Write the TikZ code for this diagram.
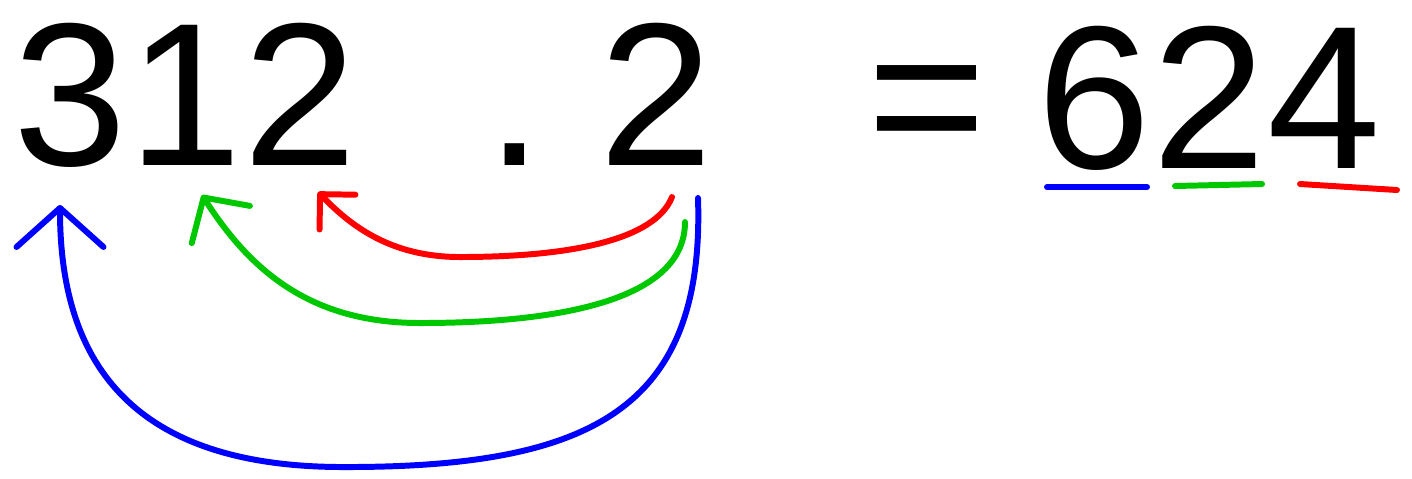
\documentclass[tikz,border=0pt]{standalone}
\usepackage{fontspec}
\setmainfont{Liberation Sans}
\usetikzlibrary{positioning,arrows.meta}
\definecolor{arcblue}{RGB}{0,0,255}
\definecolor{arcgreen}{RGB}{0,200,0}
\definecolor{arcred}{RGB}{255,0,0}

\begin{document}
\begin{tikzpicture}[
  digit/.style={inner sep=0pt, font=\fontsize{58}{60}\selectfont},
  hand/.style={line width=1.7pt, line cap=round, line join=round},
  redarc/.style={hand, arcred, -{Straight Barb[round, length=2.5mm, width=5mm]}},
  greenarc/.style={hand, arcgreen, -{Straight Barb[round, length=3.2mm, width=6.9mm]}},
  bluearc/.style={hand, arcblue, -{Straight Barb[round, length=3.9mm, width=8.7mm]}},
  uline/.style={line width=1.7pt, line cap=round}
]
\useasboundingbox (0,0) rectangle (14.12,-4.78);

% left factor, multiplier, result
\node[digit, anchor=base west] (a3) at (0.13,-1.65) {3};
\node[digit, base right=0pt of a3] (a1) {1};
\node[digit, base right=0pt of a1] (a2) {2};
\node[digit, anchor=base] (dot) at (5.15,-1.65) {.};
\node[digit, anchor=base] (b2) at (6.56,-1.65) {2};
\node[digit, anchor=base] (eq) at (9.27,-1.65) {=};
\node[digit, anchor=base west] (c6) at (10.37,-1.68) {6};
\node[digit, base right=0pt of c6] (c2) {2};
\node[digit, base right=0pt of c2] (c4) {4};

% arc ends
\coordinate (redfrom)   at (6.72,-1.97);
\coordinate (redlow)    at (4.60,-2.57);
\coordinate (redto)     at (3.18,-1.92);
\coordinate (greenfrom) at (6.85,-2.22);
\coordinate (greenlow)  at (4.20,-3.23);
\coordinate (greento)   at (2.02,-1.95);
\coordinate (bluefrom)  at (6.98,-1.98);
\coordinate (bluelow)   at (3.40,-4.67);
\coordinate (blueto)    at (0.60,-2.05);

\draw[redarc] (redfrom) .. controls (6.55,-2.40) and (5.70,-2.57) .. (redlow)
  .. controls (3.90,-2.57) and (3.50,-2.25) .. (redto);
\draw[greenarc] (greenfrom) .. controls (6.85,-3.00) and (5.60,-3.23) .. (greenlow)
  .. controls (3.10,-3.23) and (2.50,-2.70) .. (greento);
\draw[bluearc] (bluefrom) .. controls (7.05,-4.10) and (5.90,-4.68) .. (bluelow)
  .. controls (1.50,-4.66) and (0.60,-3.80) .. (blueto);

% underlines
\draw[uline, arcblue]  (10.47,-1.87) -- (11.47,-1.87);
\draw[uline, arcgreen] (11.75,-1.86) -- (12.62,-1.84);
\draw[uline, arcred]   (13.00,-1.84) -- (13.97,-1.90);
\end{tikzpicture}
\end{document}
